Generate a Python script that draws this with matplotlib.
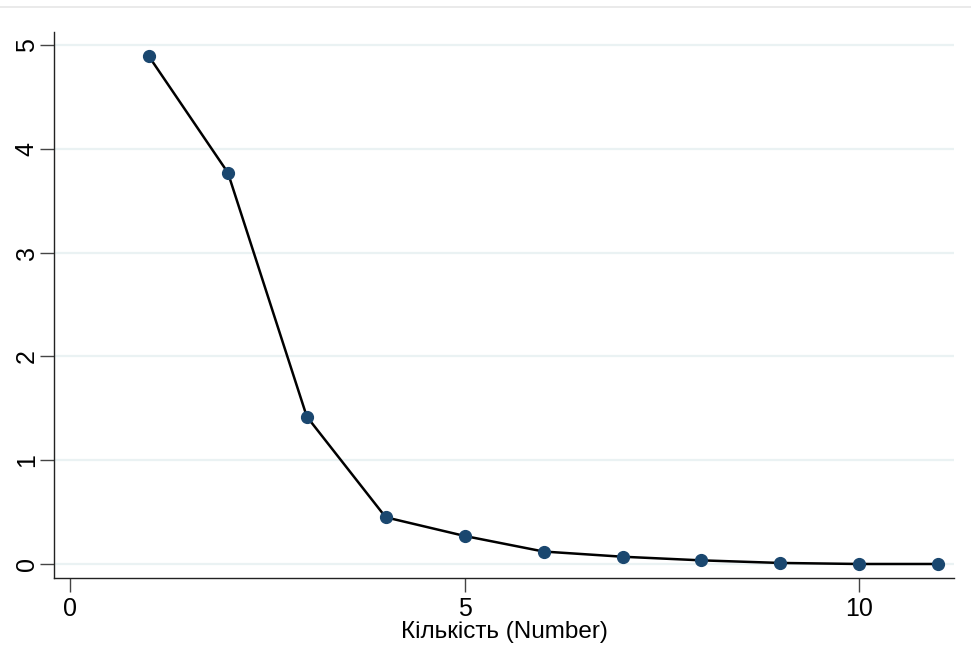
import matplotlib
matplotlib.use('Agg')
import matplotlib.pyplot as plt
from matplotlib.lines import Line2D

plt.rcParams['font.family'] = ['Liberation Sans', 'DejaVu Sans']

# scree values per component
components = [1, 2, 3, 4, 5, 6, 7, 8, 9, 10, 11]
eigenvalues = [4.89, 3.77, 1.42, 0.45, 0.27, 0.12, 0.07, 0.035, 0.01, 0.0, 0.0]
x_ticks = [0, 5, 10]
y_ticks = [0, 1, 2, 3, 4, 5]

navy = '#1a476f'
grid_color = '#eaf2f3'

fig = plt.figure(figsize=(9.71, 6.66), dpi=100)
ax = fig.add_axes([54 / 971, 88 / 666, 900 / 971, 546 / 666])

ax.plot(components, eigenvalues, color='black', lw=1.8, zorder=3)
ax.plot(components, eigenvalues, 'o', color=navy, markersize=8.5, zorder=4)

ax.set_xlim(-0.203, 11.2)
ax.set_ylim(-0.135, 5.125)
ax.set_xticks(x_ticks)
ax.set_yticks(y_ticks)

ax.yaxis.grid(True, color=grid_color, lw=1.6)
ax.set_axisbelow(True)

for side in ('top', 'right'):
    ax.spines[side].set_visible(False)
for side in ('left', 'bottom'):
    ax.spines[side].set_color('#222222')
    ax.spines[side].set_linewidth(1.0)

ax.tick_params(axis='both', direction='out', length=10, width=1.0,
               color='#444444', labelsize=18, labelcolor='black')
ax.tick_params(axis='y', pad=1)
ax.tick_params(axis='x', pad=4)
for lbl in ax.get_yticklabels():
    lbl.set_rotation(90)
    lbl.set_va('center')

ax.set_xlabel('Кількість (Number)', fontsize=17.5, labelpad=0)

# thin border line across the top of the graph region
fig.add_artist(Line2D([0, 1], [1 - 7 / 666, 1 - 7 / 666],
                      transform=fig.transFigure, color='#e6e6e6', lw=1.2))

fig.savefig('out.png', dpi=100, facecolor='white')
